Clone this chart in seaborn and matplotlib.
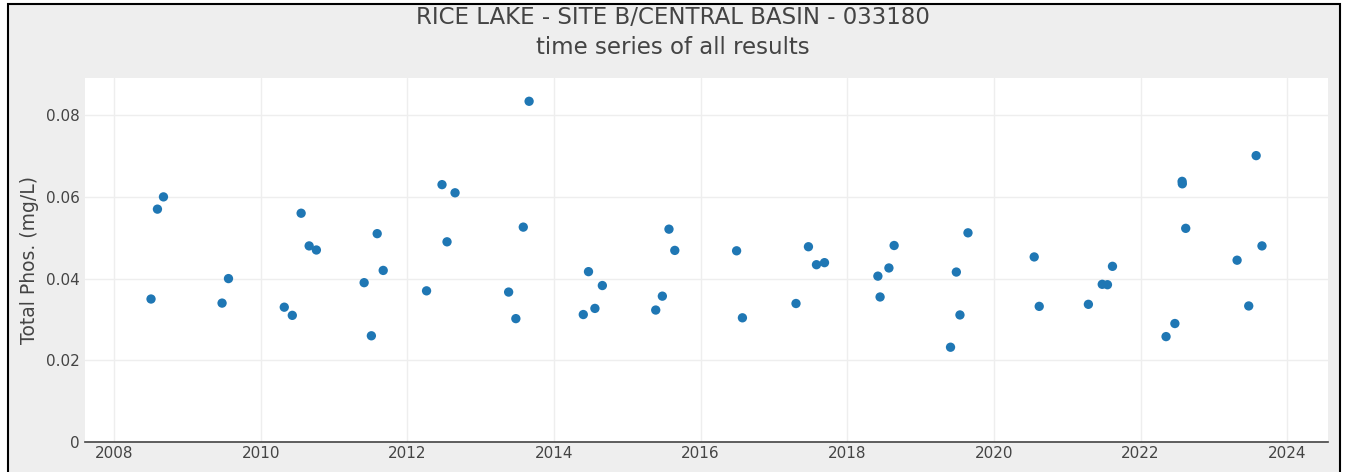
import pandas as pd
import matplotlib.pyplot as plt
import matplotlib.dates as mdates
import seaborn as sns
from matplotlib.patches import Rectangle

# sample dates and total phosphorus values
dates = [
    "2008-07-02", "2008-08-03", "2008-09-02",
    "2009-06-21", "2009-07-23",
    "2010-04-27", "2010-06-06", "2010-07-20", "2010-08-29", "2010-10-04",
    "2011-05-30", "2011-07-05", "2011-08-03", "2011-09-02",
    "2012-04-05", "2012-06-21", "2012-07-16", "2012-08-25",
    "2013-05-19", "2013-06-24", "2013-07-31", "2013-08-29",
    "2014-05-26", "2014-06-21", "2014-07-23", "2014-08-29",
    "2015-05-22", "2015-06-24", "2015-07-27", "2015-08-25",
    "2016-06-28", "2016-07-27",
    "2017-04-20", "2017-06-21", "2017-07-31", "2017-09-09",
    "2018-06-02", "2018-06-13", "2018-07-27", "2018-08-22",
    "2019-05-30", "2019-06-28", "2019-07-16", "2019-08-25",
    "2020-07-20", "2020-08-14",
    "2021-04-16", "2021-06-24", "2021-07-20", "2021-08-14",
    "2022-05-08", "2022-06-21", "2022-07-27", "2022-07-28", "2022-08-14",
    "2023-04-27", "2023-06-24", "2023-07-31", "2023-08-29",
]
total_phos = [
    0.035, 0.057, 0.060,
    0.034, 0.040,
    0.033, 0.031, 0.056, 0.048, 0.047,
    0.039, 0.026, 0.051, 0.042,
    0.037, 0.063, 0.049, 0.061,
    0.0367, 0.0302, 0.0526, 0.0834,
    0.0312, 0.0417, 0.0327, 0.0383,
    0.0323, 0.0357, 0.0521, 0.0469,
    0.0468, 0.0304,
    0.0339, 0.0478, 0.0434, 0.0439,
    0.0406, 0.0355, 0.0426, 0.0481,
    0.0232, 0.0416, 0.0311, 0.0512,
    0.0453, 0.0332,
    0.0337, 0.0386, 0.0385, 0.0430,
    0.0258, 0.0290, 0.0638, 0.0632, 0.0523,
    0.0445, 0.0333, 0.0701, 0.0480,
]
year_ticks = [2008, 2010, 2012, 2014, 2016, 2018, 2020, 2022, 2024]
y_ticks = [0, 0.02, 0.04, 0.06, 0.08]
y_labels = ["0", "0.02", "0.04", "0.06", "0.08"]

df = pd.DataFrame({"date": pd.to_datetime(dates), "tp": total_phos})

sns.set_theme(style="whitegrid")
plt.rcParams["font.family"] = ["DejaVu Sans"]
TXT = "#444444"

fig = plt.figure(figsize=(13.45, 4.72), dpi=100)
fig.patch.set_facecolor("white")
fig.patches.append(Rectangle((8 / 1345, -0.01), 1332 / 1345, 1 - 4 / 472 + 0.01,
                             transform=fig.transFigure, facecolor="#eeeeee",
                             edgecolor="black", linewidth=1.5, zorder=-10))

ax = fig.add_axes([85 / 1345, 30 / 472, 1243 / 1345, 364 / 472])
ax.set_facecolor("white")
sns.scatterplot(data=df, x="date", y="tp", ax=ax, color="#1f77b4",
                s=45, edgecolor="none", zorder=3)

ax.set_xlim(pd.Timestamp("2007-08-08"), pd.Timestamp("2024-07-23"))
ax.set_ylim(0, 0.0891)
ax.set_xticks([pd.Timestamp(f"{y}-01-01") for y in year_ticks])
ax.xaxis.set_major_formatter(mdates.DateFormatter("%Y"))
ax.set_yticks(y_ticks)
ax.set_yticklabels(y_labels)
ax.tick_params(axis="both", colors=TXT, labelsize=11, length=0)
ax.tick_params(axis="x", pad=3)
ax.tick_params(axis="y", pad=4)
ax.grid(True, color="#eeeeee", linewidth=1)
for side in ["top", "right", "left"]:
    ax.spines[side].set_visible(False)
ax.spines["bottom"].set_color("#444444")
ax.spines["bottom"].set_linewidth(1.2)
ax.set_xlabel("")
ax.set_ylabel("Total Phos. (mg/L)", color=TXT, fontsize=13.5, labelpad=5)

fig.text(0.5, 1 - 18 / 472, "RICE LAKE - SITE B/CENTRAL BASIN - 033180",
         ha="center", va="center", fontsize=16.5, color=TXT)
fig.text(0.5, 1 - 47 / 472, "time series of all results",
         ha="center", va="center", fontsize=16.5, color=TXT)

fig.savefig("out.png", dpi=100)
